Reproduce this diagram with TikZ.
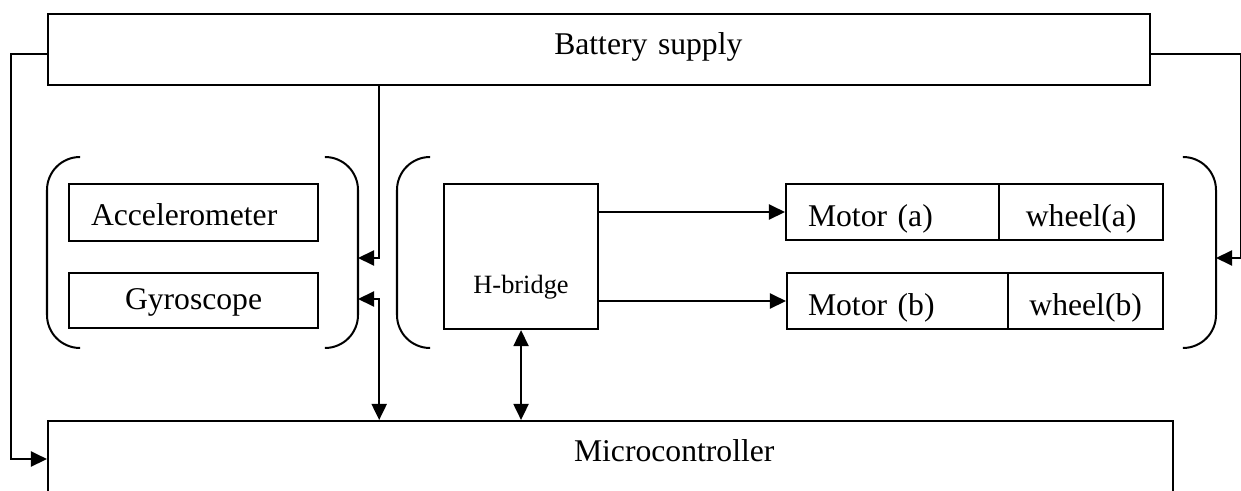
\documentclass[tikz,border=0pt]{standalone}
\usepackage{fontspec}
\setmainfont{Liberation Serif}
\usetikzlibrary{arrows.meta, positioning}

\begin{document}
\begin{tikzpicture}[
  x=0.01cm, y=-0.01cm, line width=0.02cm,
  box/.style={draw, anchor=north west, inner ysep=0pt, font=\fontsize{9}{11}\selectfont,
              text height=0.2cm, text depth=0.1cm},
  motbox/.style={box, minimum height=0.56cm, text height=0.28cm, text depth=0cm},
  brk/.style={rounded corners=0.33cm},
  arr/.style={-{Triangle[length=0.16cm, width=0.15cm]}},
  dbl/.style={{Triangle[length=0.16cm, width=0.15cm]}-{Triangle[length=0.16cm, width=0.15cm]}}
]
  \useasboundingbox (0,0) rectangle (1241,491);

  \node[box, minimum width=11.01cm, minimum height=0.71cm, inner xsep=4.07cm,
        text width=2.87cm, align=right] (batt) at (47,13) {Battery supply};
  \node[box, minimum width=11.24cm, minimum height=0.72cm, inner xsep=3.98cm,
        text width=3.28cm, align=right, text height=0.2cm, text depth=0.12cm] (micro) at (47,420) {Microcontroller};

  % sensors
  \node[box, minimum width=2.49cm, minimum height=0.57cm, inner xsep=0.22cm, text width=2.05cm,
        align=left, text height=0.25cm, text depth=0cm] (accel) at (68,183) {Accelerometer};
  \node[box, minimum width=2.49cm, minimum height=0.55cm, text height=0.22cm,
        text depth=0.05cm] (gyro) at (68,272) {Gyroscope};

  % drive
  \node[box, minimum width=1.54cm, minimum height=1.45cm, font=\fontsize{7.5}{9}\selectfont,
        text height=0.73cm, text depth=0cm] (hbr) at (443,183) {H-bridge};
  \node[motbox, minimum width=2.13cm, inner xsep=0.22cm, text width=1.69cm,
        align=left] (mota) at (785,183) {Motor (a)};
  \node[motbox, minimum width=1.64cm] (wheela) at ([xshift=-0.02cm]mota.north east) {wheel(a)};
  \node[motbox, minimum width=2.21cm, inner xsep=0.21cm, text width=1.79cm,
        align=left] (motb) at (786,272) {Motor (b)};
  \node[motbox, minimum width=1.55cm] (wheelb) at ([xshift=-0.02cm]motb.north east) {wheel(b)};

  % brackets
  \draw[brk] (80,157) -- (47,157) -- (47,348) -- (80,348);
  \draw[brk] (325,157) -- (358,157) -- (358,348) -- (325,348);
  \draw[brk] (430,157) -- (397,157) -- (397,348) -- (430,348);
  \draw[brk] (1183,157) -- (1216,157) -- (1216,348) -- (1183,348);
  \coordinate (sensin) at (358,258);
  \coordinate (sensio) at (358,299);
  \coordinate (drvin) at (1216,258);

  % connections
  \draw[arr] ([yshift=-0.04cm]batt.west) -- ++(-36,0) |- ([yshift=-0.02cm]micro.west);
  \draw[arr] ([yshift=-0.04cm]batt.east) -- ++(90,0) |- (drvin);
  \draw[arr] ([xshift=3.32cm]batt.south west) |- (sensin);
  \draw[dbl] (sensio) -| ([xshift=3.32cm]micro.north west);
  \draw[dbl] (hbr.south) -- (hbr.south |- micro.north);
  \draw[arr] (hbr.east |- mota.west) -- (mota.west);
  \draw[arr] (hbr.east |- motb.west) -- (motb.west);
\end{tikzpicture}
\end{document}
